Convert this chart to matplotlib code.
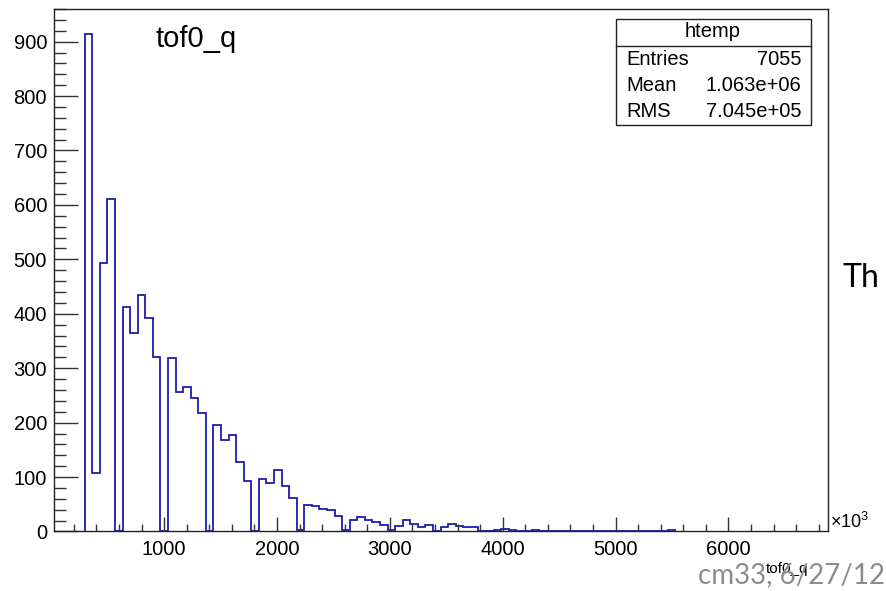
import numpy as np
import matplotlib.pyplot as plt
from matplotlib.patches import Rectangle
from matplotlib.ticker import MultipleLocator

plt.rcParams['font.family'] = ['Liberation Sans', 'DejaVu Sans']
plt.rcParams['mathtext.fontset'] = 'custom'
plt.rcParams['mathtext.rm'] = 'Liberation Sans'

# histogram binning (units of 10^3)
x_lo = 27.6
bin_w = 67.1
first_bin = 4
counts = [914, 108, 494, 611, 0, 413, 365, 434, 392, 321,
          0, 319, 257, 265, 245, 217, 0, 195, 168, 177,
          128, 92, 0, 97, 89, 113, 84, 61, 2, 49,
          47, 42, 39, 28, 2, 22, 27, 22, 18, 12,
          2, 10, 22, 13, 8, 11, 0, 9, 13, 10,
          8, 8, 0, 0, 3, 5, 2, 0, 0, 2,
          0, 0, 0, 0, 0, 0, 0, 0, 0, 0,
          0, 0, 0, 0, 0, 0, 0, 2]
stat_rows = ["Entries", "Mean", "RMS"]
stat_vals = ["7055", "1.063e+06", "7.045e+05"]

counts = np.array(counts)
edges = x_lo + bin_w * (first_bin + np.arange(len(counts) + 1))

fig = plt.figure(figsize=(8.86, 5.91), dpi=100)
ax = fig.add_axes([0.0609, 0.1007, 0.8733, 0.8841])

ax.stairs(counts, edges, color='#1c1cb0', lw=1.3, baseline=0)

ax.set_xlim(24, 6879)
ax.set_ylim(0, 960)
ax.xaxis.set_major_locator(MultipleLocator(1000))
ax.xaxis.set_minor_locator(MultipleLocator(200))
ax.yaxis.set_major_locator(MultipleLocator(100))
ax.yaxis.set_minor_locator(MultipleLocator(20))
ax.tick_params(axis='both', which='both', direction='in', color='#333333',
               width=1.0, labelsize=14.5, top=False, right=False)
ax.tick_params(axis='y', which='major', length=17, pad=5)
ax.tick_params(axis='y', which='minor', length=8.5)
ax.tick_params(axis='x', which='major', length=10, pad=6)
ax.tick_params(axis='x', which='minor', length=5)
for sp in ax.spines.values():
    sp.set_linewidth(1.0)
    sp.set_color('#222222')

# title
fig.text(0.175, 0.921, "tof0_q", fontsize=21, va='baseline', ha='left')

# stats box
fig.add_artist(Rectangle((0.6953, 0.788), 0.2201, 0.1794, transform=fig.transFigure,
                         fill=False, lw=1.0, ec='#222222'))
fig.add_artist(plt.Line2D([0.6953, 0.9154], [0.9227, 0.9227], transform=fig.transFigure,
                          lw=1.0, color='#222222'))
fig.text(0.8047, 0.9459, "htemp", fontsize=14.5, ha='center', va='center')
for i, (lab, val) in enumerate(zip(stat_rows, stat_vals)):
    y = 0.8985 - i * 0.044
    fig.text(0.7073, y, lab, fontsize=14.5, ha='left', va='center')
    fig.text(0.9041, y, val, fontsize=14.5, ha='right', va='center')

# axis decorations
fig.text(0.9368, 0.1168, r'$\times$10$^{3}$', fontsize=13, ha='left', va='center')
fig.text(0.912, 0.038, "tof0_q", fontsize=11, ha='right', va='center')

# slide text around the chart
fig.text(0.9985, 0.027, "cm33, 6/27/12", fontsize=20, color='#8c8c8c',
         family='Lato', ha='right', va='center')
fig.text(0.951, 0.5296, "Th", fontsize=23, family='Lato', ha='left', va='center')

fig.savefig('out.png', dpi=100)
